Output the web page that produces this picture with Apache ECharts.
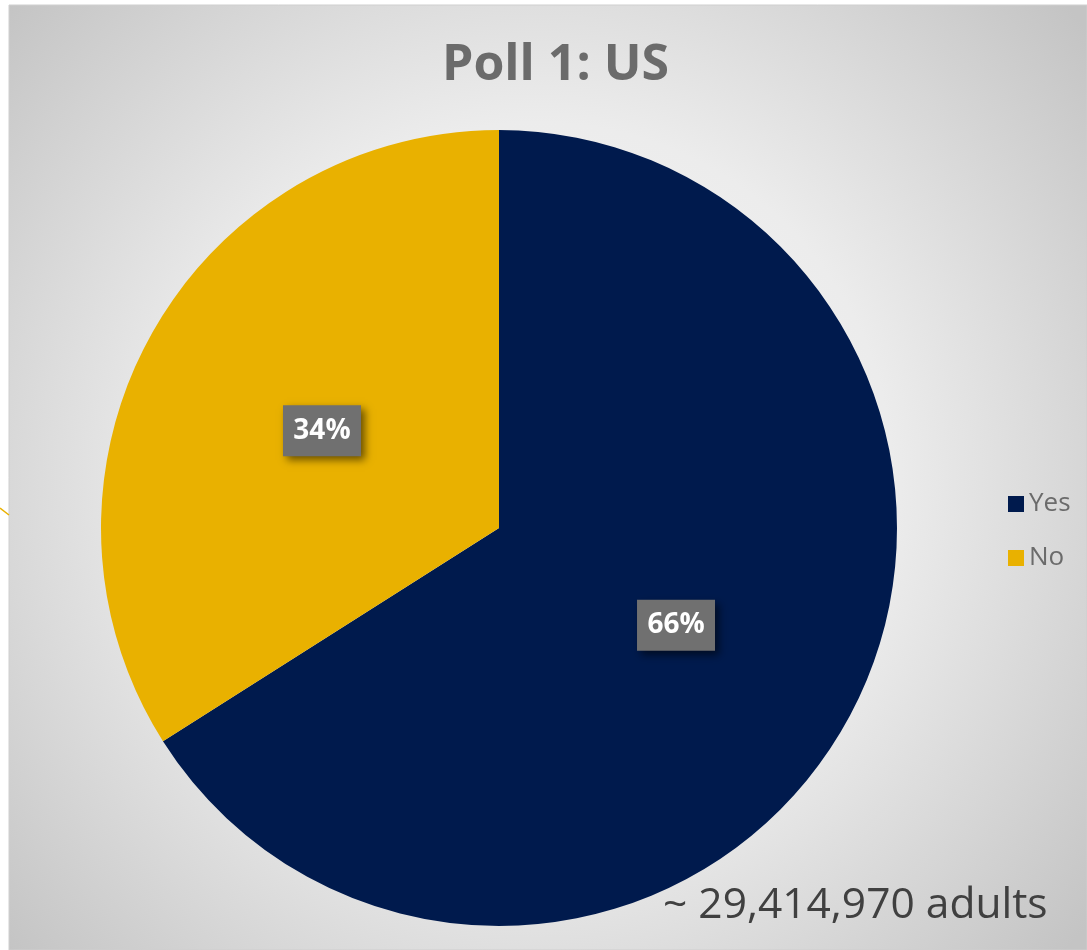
<!DOCTYPE html>
<html>
<head>
<meta charset="utf-8">
<script src="https://cdn.jsdelivr.net/npm/echarts@6/dist/echarts.min.js"></script>
<style>
html,body{margin:0;padding:0;background:#fff;}
#chart{width:1087px;height:950px;}
</style>
</head>
<body>
<div id="chart"></div>
<script>
const categories = ['Yes', 'No'];
const values = [66, 34];
const colors = ['#001A4D', '#E9B100'];
const titleText = 'Poll 1: US';
const footerText = '~ 29,414,970 adults';

const chart = echarts.init(document.getElementById('chart'));
const option = {
  backgroundColor: '#ffffff',
  animation: false,
  graphic: [
    {
      type: 'rect', z: -10, silent: true,
      shape: { x: 9, y: 5, width: 1078, height: 945 },
      style: {
        fill: {
          type: 'radial', x: 0.49, y: 0.5, r: 0.75,
          colorStops: [
            { offset: 0, color: '#f7f7f7' },
            { offset: 0.5, color: '#ececec' },
            { offset: 1, color: '#c4c4c4' }
          ]
        },
        stroke: '#cfcfcf', lineWidth: 1
      }
    },
    {
      type: 'line', z: -5, silent: true,
      shape: { x1: 0, y1: 508, x2: 9, y2: 515 },
      style: { stroke: '#E9B100', lineWidth: 1.5 }
    },
    {
      type: 'text', left: 663, top: 884,
      style: {
        text: footerText,
        font: '42.5px "Open Sans", sans-serif',
        fill: '#404040'
      }
    }
  ],
  title: {
    text: titleText,
    left: 437,
    top: 36,
    textStyle: {
      fontFamily: '"Open Sans", sans-serif',
      fontWeight: 'bold',
      fontSize: 50,
      color: '#6b6b6b'
    }
  },
  legend: {
    orient: 'vertical',
    left: 1003,
    top: 486,
    itemWidth: 16,
    itemHeight: 16,
    itemGap: 28,
    icon: 'rect',
    data: categories,
    textStyle: {
      fontFamily: '"Open Sans", sans-serif',
      fontSize: 26,
      lineHeight: 26,
      color: '#6b6b6b',
      padding: [0, 0, 0, 0]
    }
  },
  series: [{
    type: 'pie',
    center: [499, 528],
    radius: [0, 398],
    startAngle: 90,
    clockwise: true,
    data: categories.map((c, i) => ({ name: c, value: values[i], itemStyle: { color: colors[i] } })),
    label: {
      show: true,
      position: 'inside',
      formatter: p => p.value + '%',
      fontFamily: '"Open Sans", sans-serif',
      fontWeight: 'bold',
      fontSize: 28,
      color: '#ffffff',
      backgroundColor: '#707070',
      width: 62,
      height: 35,
      align: 'center',
      verticalAlign: 'middle',
      lineHeight: 35,
      padding: [8, 8, 8, 8],
      shadowColor: 'rgba(0,0,0,0.55)',
      shadowBlur: 8,
      shadowOffsetX: 4,
      shadowOffsetY: 4
    },
    labelLine: { show: false },
    emphasis: { disabled: true }
  }]
};
chart.setOption(option);
</script>
</body>
</html>
